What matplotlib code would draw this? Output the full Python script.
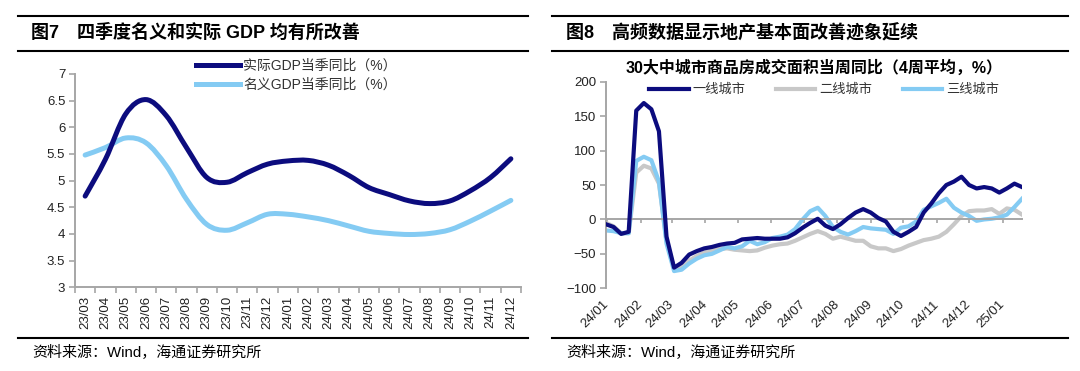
import numpy as np
import pandas as pd
import matplotlib
matplotlib.use("Agg")
import matplotlib.pyplot as plt
import matplotlib.dates as mdates
from matplotlib.lines import Line2D
from matplotlib.path import Path
from matplotlib.patches import PathPatch

plt.rcParams['font.family'] = ['Liberation Sans', 'Noto Sans CJK SC', 'DejaVu Sans']

# 图7 GDP 当季同比
months = ['23/03', '23/04', '23/05', '23/06', '23/07', '23/08', '23/09', '23/10',
          '23/11', '23/12', '24/01', '24/02', '24/03', '24/04', '24/05', '24/06',
          '24/07', '24/08', '24/09', '24/10', '24/11', '24/12']
real_gdp = [4.71, 5.40, 6.25, 6.52, 6.22, 5.62, 5.06, 4.97, 5.15, 5.31, 5.37,
            5.38, 5.29, 5.10, 4.87, 4.74, 4.62, 4.57, 4.62, 4.81, 5.06, 5.41]
nominal_gdp = [5.48, 5.62, 5.80, 5.71, 5.28, 4.65, 4.18, 4.07, 4.21, 4.37, 4.37,
               4.32, 4.25, 4.15, 4.05, 4.01, 3.99, 4.01, 4.08, 4.24, 4.43, 4.63]

# 图8 30大中城市商品房成交面积当周同比(4周平均, %)
weeks = pd.date_range('2023-12-31', periods=56, freq='7D')
tier1 = [-7, -11, -21, -18, 158, 169, 160, 128, -25, -70, -63, -51, -46, -42, -40, -37, -35, -34,
         -29, -28, -27, -28, -28, -28, -26, -20, -12, -5, 1, -9, -14, -7, 2, 10, 15,
         10, 2, -3, -18, -24, -18, -11, 10, 23, 38, 50, 55, 62, 50, 45, 47, 45, 39, 45, 52, 47]
tier2 = [-5, -10, -20, -20, 68, 78, 74, 52, -30, -72, -68, -60, -53, -48, -45, -43, -42, -44,
         -45, -46, -45, -41, -38, -36, -35, -31, -26, -21, -17, -21, -28, -25, -28, -31, -31,
         -39, -42, -42, -46, -43, -38, -34, -30, -28, -25, -18, -7, 5, 12, 13, 13, 15, 8, 16, 14, 7]
tier3 = [-16, -17, -20, -20, 85, 91, 86, 55, -35, -75, -73, -64, -57, -52, -50, -45, -40, -42,
         -39, -31, -36, -33, -27, -25, -22, -14, 0, 12, 17, 5, -11, -18, -22, -17, -11,
         -13, -14, -15, -21, -12, -10, -3, 14, 19, 24, 30, 17, 10, 5, -2, 0, 1, 3, 7, 18, 30]

navy = '#0c0c7e'
sky = '#84cbf3'
grey = '#c8c8c8'
axis_grey = '#a6a6a6'
W, H = 1080, 371


def fx(px):
    return px / W


def fy(py):
    return 1 - py / H


def smooth_line(ax, xs, ys, color, lw, z=2):
    # excel style smoothed line: bezier segments through the data points
    p = np.column_stack([np.asarray(xs, float), np.asarray(ys, float)])
    verts = [p[0]]
    codes = [Path.MOVETO]
    n = len(p)
    for i in range(n - 1):
        a = p[i - 1] if i > 0 else p[i]
        d = p[i + 2] if i + 2 < n else p[i + 1]
        c1 = p[i] + (p[i + 1] - a) / 6
        c2 = p[i + 1] - (d - p[i]) / 6
        verts += [c1, c2, p[i + 1]]
        codes += [Path.CURVE4] * 3
    ax.add_patch(PathPatch(Path(verts, codes), fill=False, edgecolor=color, lw=lw,
                           joinstyle='round', capstyle='round', zorder=z))
    return Line2D([], [], color=color, lw=lw)


fig = plt.figure(figsize=(10.8, 3.71), dpi=100)

# rules and titles
for x0, x1 in [(18, 528), (552, 1068)]:
    for y in [16, 51, 338]:
        fig.add_artist(Line2D([fx(x0), fx(x1)], [fy(y), fy(y)], color='black', lw=1.5))

fig.text(fx(31), fy(33), '图7　四季度名义和实际 GDP 均有所改善', fontsize=13, fontweight='bold',
         va='center', ha='left')
fig.text(fx(566), fy(33), '图8　高频数据显示地产基本面改善迹象延续', fontsize=13, fontweight='bold',
         va='center', ha='left')
fig.text(fx(32), fy(353), '资料来源：Wind，海通证券研究所', fontsize=10.8, va='center', ha='left')
fig.text(fx(566), fy(353), '资料来源：Wind，海通证券研究所', fontsize=10.8, va='center', ha='left')

# ---- left chart
ax1 = fig.add_axes([fx(75), fy(287.3), fx(521) - fx(75), fy(74) - fy(287.3)])
x = np.arange(len(months))
h1 = smooth_line(ax1, x, real_gdp, navy, 3.6, 3)
h2 = smooth_line(ax1, x, nominal_gdp, sky, 3.6, 2)
ax1.set_xlim(-0.5, len(months) - 0.5)
ax1.set_ylim(3, 7)
ax1.set_yticks([3, 3.5, 4, 4.5, 5, 5.5, 6, 6.5, 7])
ax1.set_yticklabels(['3', '3.5', '4', '4.5', '5', '5.5', '6', '6.5', '7'])
ax1.set_xticks(x)
ax1.set_xticklabels(months, rotation=90)
ax1.set_xticks(np.arange(len(months) + 1) - 0.5, minor=True)
ax1.tick_params(axis='x', which='major', length=0, pad=6, labelsize=9.5, colors='#222222')
ax1.tick_params(axis='x', which='minor', length=4, width=1.2, color=axis_grey)
ax1.tick_params(axis='y', length=4, width=1.2, color=axis_grey, labelsize=9.5,
                labelcolor='#222222', pad=3)
for s in ['top', 'right']:
    ax1.spines[s].set_visible(False)
for s in ['left', 'bottom']:
    ax1.spines[s].set_color(axis_grey)
    ax1.spines[s].set_linewidth(1.4)
ax1.patch.set_alpha(0)
fig.legend([h1, h2], ['实际GDP当季同比（%）', '名义GDP当季同比（%）'], loc='upper left',
           bbox_to_anchor=(fx(196), fy(59)), frameon=False, fontsize=10,
           handlelength=3.2, handletextpad=0.2, labelspacing=0.35, borderpad=0,
           borderaxespad=0, labelcolor='#333333')

# ---- right chart
ax2 = fig.add_axes([fx(606), fy(288.3), fx(1022) - fx(606), fy(81.7) - fy(288.3)])
ax2.plot(weeks, tier1, color=navy, lw=3, solid_joinstyle='round', label='一线城市', zorder=3)
ax2.plot(weeks, tier2, color=grey, lw=3, solid_joinstyle='round', label='二线城市', zorder=2)
ax2.plot(weeks, tier3, color=sky, lw=3, solid_joinstyle='round', label='三线城市', zorder=2.5)
ax2.set_xlim(weeks[0], weeks[-1])
ax2.set_ylim(-100, 200)
ax2.set_yticks([-100, -50, 0, 50, 100, 150, 200])
ax2.xaxis.set_major_locator(mdates.MonthLocator())
ax2.xaxis.set_major_formatter(mdates.DateFormatter('%y/%m'))
ax2.spines['bottom'].set_position(('data', 0))
ax2.spines['bottom'].set_color(axis_grey)
ax2.spines['bottom'].set_linewidth(1.4)
ax2.spines['left'].set_color(axis_grey)
ax2.spines['left'].set_linewidth(1.4)
for s in ['top', 'right']:
    ax2.spines[s].set_visible(False)
ax2.tick_params(axis='x', length=3, width=1.2, color=axis_grey, pad=57, labelsize=9.5,
                labelcolor='#222222')
for lab in ax2.get_xticklabels():
    lab.set_rotation(45)
    lab.set_ha('right')
    lab.set_va('center')
    lab.set_rotation_mode('anchor')
ax2.tick_params(axis='y', length=4, width=1.2, color=axis_grey, labelsize=9.5,
                labelcolor='#222222', pad=3)
ax2.patch.set_alpha(0)
fig.text(fx(814), fy(68), '30大中城市商品房成交面积当周同比（4周平均，%）', fontsize=11.5,
         fontweight='bold', ha='center', va='center')
fig.legend(*ax2.get_legend_handles_labels(), loc='center left',
           bbox_to_anchor=(fx(649), fy(90)), frameon=False, fontsize=9.5, ncol=3,
           handlelength=3.0, handletextpad=0.3, columnspacing=2.3, borderpad=0,
           borderaxespad=0, labelcolor='#333333')

fig.savefig('out.png', dpi=100)
